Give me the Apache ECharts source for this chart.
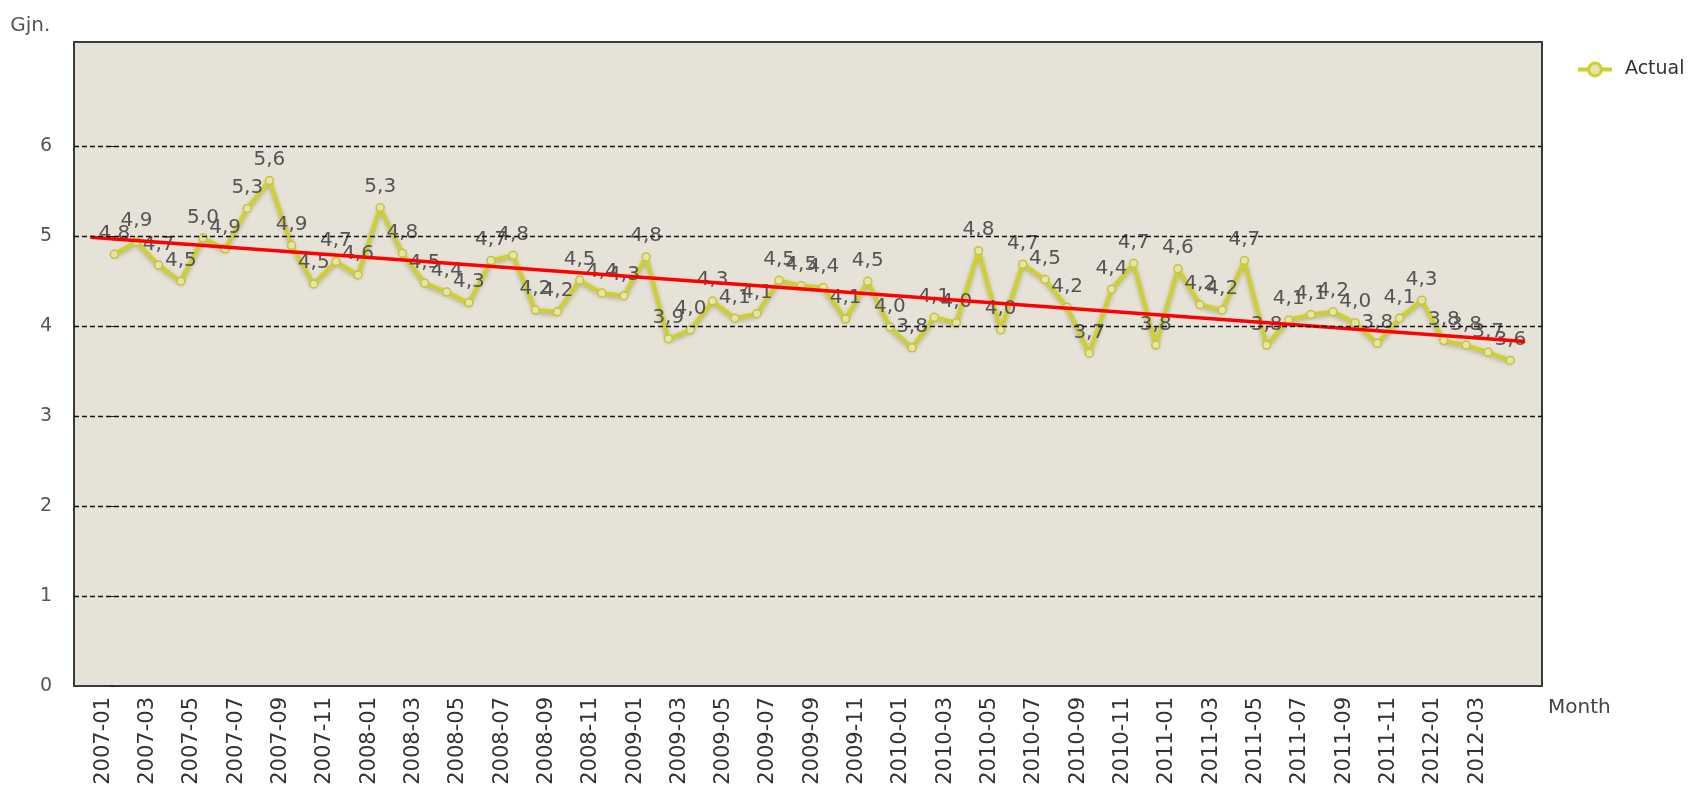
<!DOCTYPE html>
<html>
<head>
<meta charset="utf-8">
<script src="https://cdn.jsdelivr.net/npm/echarts@6/dist/echarts.min.js"></script>
<style>
html,body{margin:0;padding:0;background:#fff;}
#chart{width:1692px;height:792px;}
</style>
</head>
<body>
<div id="chart"></div>
<script>
var months = [
 "2007-01","2007-02","2007-03","2007-04","2007-05","2007-06","2007-07","2007-08","2007-09","2007-10","2007-11","2007-12",
 "2008-01","2008-02","2008-03","2008-04","2008-05","2008-06","2008-07","2008-08","2008-09","2008-10","2008-11","2008-12",
 "2009-01","2009-02","2009-03","2009-04","2009-05","2009-06","2009-07","2009-08","2009-09","2009-10","2009-11","2009-12",
 "2010-01","2010-02","2010-03","2010-04","2010-05","2010-06","2010-07","2010-08","2010-09","2010-10","2010-11","2010-12",
 "2011-01","2011-02","2011-03","2011-04","2011-05","2011-06","2011-07","2011-08","2011-09","2011-10","2011-11","2011-12",
 "2012-01","2012-02","2012-03","2012-04"
];
var actual = [
 4.80,4.94,4.68,4.50,4.98,4.86,5.31,5.62,4.90,4.47,4.72,4.57,
 5.32,4.81,4.48,4.38,4.26,4.73,4.79,4.18,4.16,4.51,4.37,4.34,
 4.77,3.86,3.96,4.28,4.09,4.14,4.51,4.45,4.43,4.08,4.50,3.99,
 3.76,4.10,4.04,4.84,3.96,4.69,4.52,4.21,3.70,4.41,4.70,3.79,
 4.64,4.24,4.18,4.73,3.79,4.07,4.13,4.16,4.04,3.81,4.09,4.29,
 3.84,3.79,3.71,3.62
];
// trend line end points (month index, value)
var trendX = [-1.08, 63.67];
var trendY = [4.99, 3.83];
var yTicks = [0,1,2,3,4,5,6];
var gridValues = [1,2,3,4,5,6];
var xLabelIdx = [0,2,4,6,8,10,12,14,16,18,20,22,24,26,28,30,32,34,36,38,40,42,44,46,48,50,52,54,56,58,60,62];

var FONT = 'DejaVu Sans';
var actualData = actual.map(function(v,i){ return [i, v]; });
var trendData = trendX.map(function(x,i){ return [x, trendY[i]]; });

var chart = echarts.init(document.getElementById('chart'), null, {renderer:'canvas'});
chart.setOption({
  animation:false,
  backgroundColor:'#ffffff',
  textStyle:{fontFamily:FONT},
  grid:{left:74, right:150, top:42, bottom:106, show:true, backgroundColor:'#e6e2d7', borderColor:'#3a3a3a', borderWidth:2},
  legend:{
    left:1571, top:55, itemWidth:34, itemHeight:16,
    data:[{name:'Actual'}],
    itemStyle:{color:'#e6e4a8', borderColor:'#cfcf30', borderWidth:3},
    lineStyle:{color:'#cfcf30', width:4},
    textStyle:{fontFamily:FONT, fontSize:19, color:'#333', padding:[0,0,0,8]}
  },
  xAxis:{
    type:'value', min:-1.82, max:64.43,
    name:'Month', nameLocation:'end', nameGap:6,
    nameTextStyle:{fontFamily:FONT, fontSize:20, color:'#444', align:'left', verticalAlign:'top', padding:[12,0,0,0]},
    axisLine:{show:false},
    splitLine:{show:false},
    axisTick:{show:false},
    axisLabel:{
      customValues: xLabelIdx.map(function(i){ return i - 0.5; }),
      rotate:90, margin:11, fontFamily:FONT, fontSize:21, color:'#333',
      formatter:function(v){ return months[Math.round(v + 0.5)] || ''; }
    }
  },
  yAxis:{
    type:'value', min:0, max:7.16,
    name:'Gjn.', nameLocation:'end', nameGap:16,
    nameTextStyle:{fontFamily:FONT, fontSize:20, color:'#555', align:'right', verticalAlign:'middle', padding:[0,64,0,0]},
    axisLine:{show:false},
    splitLine:{show:false},
    axisTick:{show:true, customValues:yTicks, length:4, lineStyle:{color:'#222'}},
    axisLabel:{customValues:yTicks, margin:22, fontFamily:FONT, fontSize:19, color:'#555'}
  },
  series:[
    {
      name:'grid', type:'line', data:[], silent:true, z:1,
      markLine:{
        silent:true, symbol:['none','none'], label:{show:false},
        lineStyle:{color:'#111', type:[5,3], width:1.3},
        data: gridValues.map(function(v){ return {yAxis:v}; })
      }
    },
    {
      name:'Actual', type:'line', data:actualData, z:3,
      symbol:'circle', symbolSize:8,
      lineStyle:{color:'#cfcf30', width:4, shadowColor:'rgba(110,110,40,0.45)', shadowBlur:4, shadowOffsetY:2},
      itemStyle:{color:'#e6e4a8', borderColor:'#c4c43c', borderWidth:1.5},
      label:{
        show:true, position:'top', distance:6,
        fontFamily:FONT, fontSize:20, color:'#555',
        formatter:function(p){ return p.value[1].toFixed(1).replace('.', ','); }
      }
    },
    {
      name:'Trend', type:'line', data:trendData, z:4,
      symbol:'none', lineStyle:{color:'#ff0000', width:3.5}
    }
  ]
});
</script>
</body>
</html>
